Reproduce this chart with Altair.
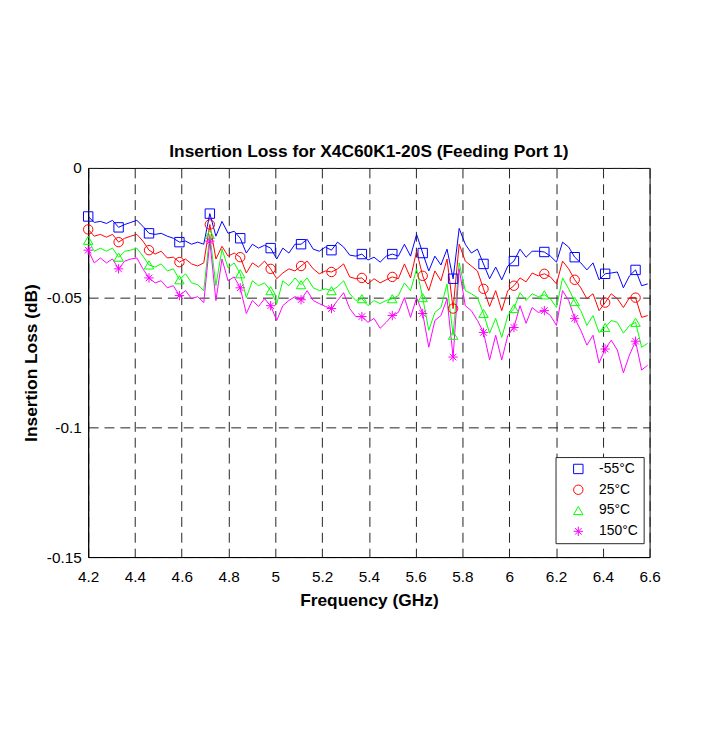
import altair as alt
import pandas as pd

# Frequency sweep grid (GHz)
F_START = 4.2
F_STEP = 0.026
N_POINTS = 93
FREQ_GHZ = [round(F_START + F_STEP * i, 3) for i in range(N_POINTS)]

TEMPS = ["-55°C", "25°C", "95°C", "150°C"]
COLORS = ["#0000ff", "#ff0000", "#00ff00", "#ff00ff"]
STAR = "M0,-1L0,1M-1,0L1,0M-0.7,-0.7L0.7,0.7M-0.7,0.7L0.7,-0.7"
SHAPES = ["square", "circle", "triangle-up", STAR]
MARKER_EVERY = 5

IL_M55 = [
    -0.0187, -0.0210, -0.0206, -0.0214, -0.0202, -0.0229, -0.0218, -0.0210, -0.0202, -0.0225,
    -0.0252, -0.0256, -0.0252, -0.0263, -0.0271, -0.0286, -0.0282, -0.0294, -0.0286, -0.0294,
    -0.0176, -0.0263, -0.0206, -0.0252, -0.0244, -0.0271, -0.0328, -0.0294, -0.0309, -0.0298,
    -0.0309, -0.0351, -0.0309, -0.0328, -0.0294, -0.0294, -0.0275, -0.0313, -0.0321, -0.0305,
    -0.0317, -0.0286, -0.0305, -0.0336, -0.0340, -0.0332, -0.0355, -0.0344, -0.0363, -0.0340,
    -0.0332, -0.0340, -0.0294, -0.0340, -0.0256, -0.0328, -0.0397, -0.0340, -0.0374, -0.0313,
    -0.0427, -0.0233, -0.0294, -0.0328, -0.0313, -0.0370, -0.0427, -0.0382, -0.0431, -0.0378,
    -0.0359, -0.0313, -0.0344, -0.0321, -0.0321, -0.0324, -0.0340, -0.0363, -0.0286, -0.0305,
    -0.0344, -0.0366, -0.0393, -0.0366, -0.0431, -0.0408, -0.0405, -0.0401, -0.0462, -0.0416,
    -0.0393, -0.0454, -0.0447,
]
IL_25 = [
    -0.0237, -0.0263, -0.0256, -0.0267, -0.0256, -0.0286, -0.0271, -0.0263, -0.0256, -0.0282,
    -0.0317, -0.0332, -0.0321, -0.0347, -0.0344, -0.0363, -0.0351, -0.0370, -0.0378, -0.0366,
    -0.0218, -0.0351, -0.0302, -0.0340, -0.0328, -0.0344, -0.0405, -0.0366, -0.0382, -0.0359,
    -0.0389, -0.0427, -0.0405, -0.0389, -0.0397, -0.0378, -0.0359, -0.0389, -0.0408, -0.0397,
    -0.0401, -0.0389, -0.0370, -0.0420, -0.0427, -0.0424, -0.0447, -0.0427, -0.0443, -0.0431,
    -0.0420, -0.0427, -0.0370, -0.0424, -0.0321, -0.0416, -0.0473, -0.0397, -0.0435, -0.0351,
    -0.0542, -0.0294, -0.0359, -0.0378, -0.0397, -0.0466, -0.0534, -0.0473, -0.0550, -0.0473,
    -0.0454, -0.0424, -0.0439, -0.0405, -0.0416, -0.0408, -0.0420, -0.0447, -0.0359, -0.0389,
    -0.0431, -0.0462, -0.0504, -0.0485, -0.0550, -0.0519, -0.0485, -0.0504, -0.0538, -0.0500,
    -0.0500, -0.0576, -0.0569,
]
IL_95 = [
    -0.0279, -0.0321, -0.0309, -0.0321, -0.0309, -0.0344, -0.0321, -0.0317, -0.0309, -0.0340,
    -0.0374, -0.0382, -0.0370, -0.0397, -0.0389, -0.0431, -0.0408, -0.0443, -0.0450, -0.0473,
    -0.0256, -0.0454, -0.0313, -0.0385, -0.0366, -0.0408, -0.0500, -0.0435, -0.0454, -0.0443,
    -0.0473, -0.0523, -0.0435, -0.0454, -0.0424, -0.0450, -0.0424, -0.0462, -0.0473, -0.0466,
    -0.0473, -0.0458, -0.0435, -0.0485, -0.0511, -0.0504, -0.0531, -0.0511, -0.0523, -0.0511,
    -0.0504, -0.0492, -0.0443, -0.0473, -0.0389, -0.0500, -0.0626, -0.0557, -0.0538, -0.0447,
    -0.0645, -0.0366, -0.0473, -0.0485, -0.0500, -0.0561, -0.0637, -0.0580, -0.0653, -0.0569,
    -0.0542, -0.0481, -0.0511, -0.0485, -0.0496, -0.0489, -0.0504, -0.0538, -0.0424, -0.0466,
    -0.0515, -0.0550, -0.0607, -0.0569, -0.0634, -0.0615, -0.0588, -0.0595, -0.0637, -0.0607,
    -0.0595, -0.0691, -0.0676,
]
IL_150 = [
    -0.0317, -0.0366, -0.0347, -0.0366, -0.0351, -0.0389, -0.0359, -0.0351, -0.0347, -0.0389,
    -0.0424, -0.0443, -0.0435, -0.0462, -0.0454, -0.0492, -0.0473, -0.0504, -0.0496, -0.0519,
    -0.0282, -0.0511, -0.0351, -0.0435, -0.0420, -0.0462, -0.0561, -0.0511, -0.0534, -0.0504,
    -0.0531, -0.0588, -0.0531, -0.0511, -0.0496, -0.0508, -0.0473, -0.0511, -0.0523, -0.0534,
    -0.0542, -0.0511, -0.0481, -0.0542, -0.0573, -0.0573, -0.0595, -0.0580, -0.0618, -0.0595,
    -0.0569, -0.0557, -0.0500, -0.0576, -0.0500, -0.0561, -0.0691, -0.0588, -0.0569, -0.0504,
    -0.0729, -0.0389, -0.0531, -0.0550, -0.0588, -0.0634, -0.0740, -0.0645, -0.0740, -0.0645,
    -0.0615, -0.0531, -0.0599, -0.0538, -0.0557, -0.0550, -0.0569, -0.0607, -0.0473, -0.0511,
    -0.0580, -0.0626, -0.0683, -0.0645, -0.0752, -0.0698, -0.0664, -0.0702, -0.0790, -0.0721,
    -0.0668, -0.0779, -0.0760,
]

X_TICKS = [4.2, 4.4, 4.6, 4.8, 5.0, 5.2, 5.4, 5.6, 5.8, 6.0, 6.2, 6.4, 6.6]
Y_TICKS = [0, -0.05, -0.1, -0.15]

# legend entries carry trailing no-break spaces so the legend box is as wide as the original
PAD = "\u00a0" * 7
LABELS = [t + PAD for t in TEMPS]

rows = []
for k, (label, series) in enumerate(zip(LABELS, [IL_M55, IL_25, IL_95, IL_150])):
    for i, (f, v) in enumerate(zip(FREQ_GHZ, series)):
        rows.append({"freq": f, "loss": v, "temp": label, "series": k,
                     "marker": i % MARKER_EVERY == 0})
df = pd.DataFrame(rows)

FONT = "Liberation Sans"

x_enc = alt.X(
    "freq:Q",
    scale=alt.Scale(domain=[4.2, 6.6], nice=False, zero=False),
    axis=alt.Axis(
        values=X_TICKS, title="Frequency (GHz)", labelExpr="'' + datum.value",
        grid=True, ticks=False, labelPadding=13, titlePadding=6, labelFlush=False,
    ),
)
y_enc = alt.Y(
    "loss:Q",
    scale=alt.Scale(domain=[-0.15, 0], nice=False, zero=False),
    axis=alt.Axis(
        values=Y_TICKS, title="Insertion Loss (dB)", labelExpr="'' + datum.value",
        grid=True, ticks=False, labelPadding=7, titlePadding=6, labelFlush=False,
    ),
)

# line colours use their own scale (domain = series index) so its hidden legend is kept apart
lines = alt.Chart(df).mark_line(strokeWidth=1, clip=True).encode(
    x=x_enc, y=y_enc,
    stroke=alt.Stroke("series:N", scale=alt.Scale(domain=[0, 1, 2, 3], range=COLORS), legend=None),
    detail="series:N",
)

points = alt.Chart(df).transform_filter("datum.marker").mark_point(
    filled=False, size=90, strokeWidth=1, opacity=1
).encode(
    x=x_enc, y=y_enc,
    color=alt.Color("temp:N", scale=alt.Scale(domain=LABELS, range=COLORS), legend=alt.Legend(title=None)),
    shape=alt.Shape("temp:N", scale=alt.Scale(domain=LABELS, range=SHAPES), legend=alt.Legend(title=None)),
)

chart = (
    alt.layer(lines, points)
    .properties(
        width=567, height=393,
        title=alt.TitleParams(
            "Insertion Loss for X4C60K1-20S (Feeding Port 1)",
            font=FONT, fontSize=17.5, fontWeight="bold", color="black", offset=1,
        ),
        autosize=alt.AutoSizeParams(type="none"),
        padding={"left": 81, "top": 158, "right": 60, "bottom": 160},
    )
    .configure_view(stroke="black", strokeWidth=1)
    .configure_axis(
        domainColor="black", gridColor="#222222", gridDash=[10, 6], gridWidth=1, gridOpacity=1,
        labelFont=FONT, labelFontSize=15.5, labelColor="black",
        titleFont=FONT, titleFontSize=17.5, titleFontWeight="bold", titleColor="black",
    )
    .configure_legend(
        orient="none", legendX=472, legendY=292, direction="vertical",
        fillColor="white", strokeColor="#262626", padding=5, rowPadding=7,
        symbolSize=90, symbolStrokeWidth=1, symbolOffset=11, labelOffset=14,
        labelFont=FONT, labelFontSize=14, labelColor="black",
    )
)

chart.save("out.html", embed_options={"renderer": "svg", "actions": False})
